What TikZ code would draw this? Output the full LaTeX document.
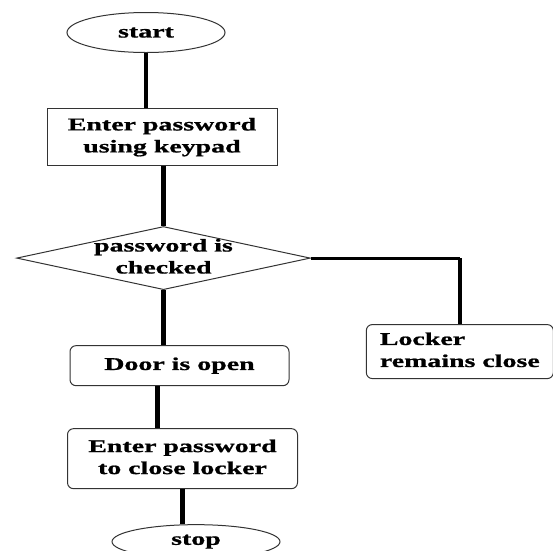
\documentclass[tikz,border=0pt]{standalone}
\usepackage{fontspec}
\newfontfamily\boxfont{Liberation Serif}[FakeStretch=1.55, FakeBold=1]
\usetikzlibrary{shapes, positioning, calc}
\tikzset{
  every node/.style = {font = \boxfont\bfseries\fontsize{18}{22}\selectfont, draw = black!80, line width = 1pt},
  term/.style = {ellipse, minimum width = \termwidth, minimum height = 40pt},
  plainbox/.style = {rectangle, inner sep = 2pt},
  roundbox/.style = {rectangle, rounded corners = 6pt, inner sep = 2pt},
  test/.style = {diamond, aspect = 4.65, inner sep = -4.4pt},
  flow/.style = {-, line width = 4.5pt, black},
  sideflow/.style = {-, line width = 3pt, black}
}
\def \termwidth {158pt}
\def \boxwidth {230pt}

\begin{document}
\begin{tikzpicture}[x = 1pt, y = -1pt]
\useasboundingbox (0, 0) rectangle (553, 550);

\node (start) [term] at (146, 32.5) {start};
\node (pwd) [plainbox, below = 55pt of start, xshift = 16pt, minimum width = \boxwidth, minimum height = 57pt] {\begin{tabular}{@{}c@{}}Enter password\\using keypad\end{tabular}};
\node (check) [test, below = 60pt of pwd, xshift = 1.5pt] {\begin{tabular}{@{}c@{}}password is\\checked\end{tabular}};
\node (door) [roundbox, below = 55pt of check, xshift = 16pt, minimum width = 219pt, minimum height = 40pt] {Door is open};
\node (close) [roundbox, below = 42pt of door, xshift = 3pt, minimum width = \boxwidth, minimum height = 60pt] {\begin{tabular}{@{}c@{}}Enter password\\to close locker\end{tabular}};
\node (stop) [term, below = 35pt of close, xshift = 13.5pt, minimum width = 168pt, minimum height = 34pt, inner sep = 1pt] {stop};
\node (locker) [roundbox, right = 55pt of check, yshift = -93.5pt, minimum width = 187pt, minimum height = 54pt] {\begin{tabular}{@{}l@{}}Locker\\remains close\end{tabular}};

\draw[flow] (start) -- (start |- pwd.north);
\draw[flow] (pwd.south -| check.north) -- (check.north);
\draw[flow] (check.south) -- (check.south |- door.north);
\coordinate (dleft) at ([xshift = -22pt] door.south);
\draw[flow] (dleft) -- (dleft |- close.north);
\draw[flow] (close.south) -- (close.south |- stop.north);

\coordinate (bend) at (check.east -| locker.north);
\draw[sideflow] (check.east) -- (bend);
\draw[flow] (bend) -- (locker.north);

\end{tikzpicture}
\end{document}
